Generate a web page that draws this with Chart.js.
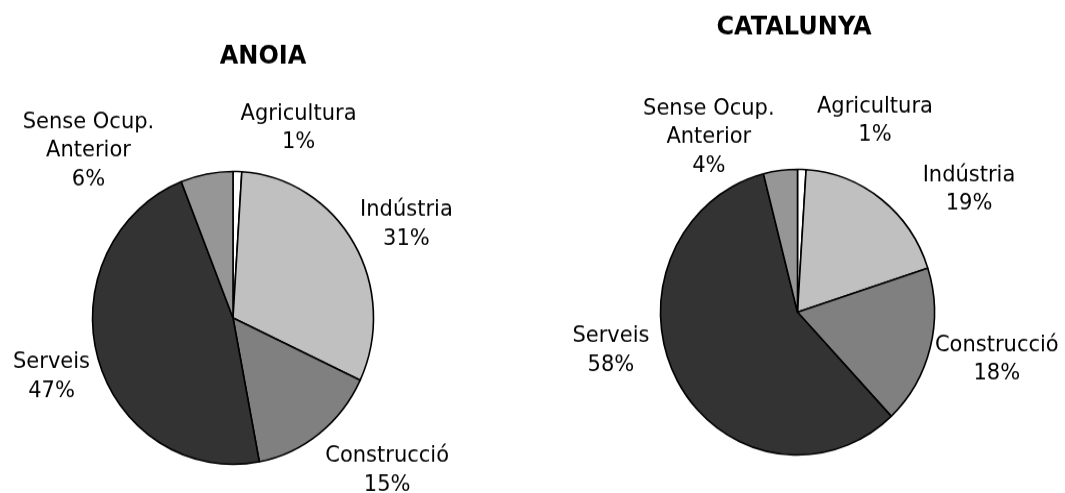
<!DOCTYPE html>
<html>
<head>
<meta charset="utf-8">
<script src="https://cdn.jsdelivr.net/npm/chart.js@4.4.1/dist/chart.umd.min.js"></script>
<style>
  body { margin: 0; background: #fff; }
  .panel { position: absolute; top: 0; }
</style>
</head>
<body>
<!-- the reference picture is stretched a little in height, so the canvases are too -->
<div class="panel" style="left:0"><canvas id="anoia" width="532" height="473" style="width:532px;height:493px"></canvas></div>
<div class="panel" style="left:532px"><canvas id="catalunya" width="533" height="473" style="width:533px;height:493px"></canvas></div>
<script>
/**
 * Data
 */
var sectors = ['Agricultura', 'Indústria', 'Construcció', 'Serveis', 'Sense Ocup. Anterior'];
var labelLines = [['Agricultura'], ['Indústria'], ['Construcció'], ['Serveis'], ['Sense Ocup.', 'Anterior']];
var anoiaValues = [1, 31, 15, 47, 6];
var catalunyaValues = [1, 19, 18, 58, 4];
var sliceColors = ['#ffffff', '#c0c0c0', '#808080', '#333333', '#969696'];

// draws the outside labels (name + percent) and the panel title
const pieLabels = {
  id: 'pieLabels',
  afterDatasetsDraw(chart, args, opts) {
    const ctx = chart.ctx;
    const meta = chart.getDatasetMeta(0);
    const values = chart.data.datasets[0].data;
    const total = values.reduce((a, b) => a + b, 0);
    ctx.save();
    ctx.fillStyle = '#000';
    ctx.textAlign = 'center';
    ctx.textBaseline = 'middle';
    ctx.font = '21px "DejaVu Sans"';
    meta.data.forEach((arc, i) => {
      const p = arc.getProps(['x', 'y', 'startAngle', 'endAngle', 'outerRadius'], true);
      const mid = (p.startAngle + p.endAngle) / 2;
      const lines = labelLines[i].concat([Math.round(values[i] / total * 100) + '%']);
      const w = Math.max(...lines.map(l => ctx.measureText(l).width));
      const h = lines.length * opts.lineHeight;
      const cos = Math.cos(mid), sin = Math.sin(mid);
      const r = p.outerRadius + opts.gap;
      const cx = p.x + r * cos + cos * w / 2 + opts.nudge[i][0];
      const cy = p.y + r * sin + sin * h / 2 + opts.nudge[i][1];
      lines.forEach((l, k) => {
        ctx.fillText(l, cx, cy - h / 2 + opts.lineHeight * (k + 0.5));
      });
    });
    ctx.font = 'bold 24px "DejaVu Sans"';
    ctx.fillText(opts.title, opts.titleX, opts.titleY);
    ctx.restore();
  }
};

function makePie(id, values, radius, padding, labelOpts) {
  return new Chart(document.getElementById(id), {
    type: 'pie',
    data: {
      labels: sectors,
      datasets: [{
        data: values,
        backgroundColor: sliceColors,
        borderColor: '#000',
        borderWidth: 1.6,
        radius: radius
      }]
    },
    options: {
      responsive: false,
      animation: false,
      events: [],
      layout: { padding: padding },
      plugins: {
        legend: { display: false },
        tooltip: { enabled: false },
        pieLabels: labelOpts
      }
    },
    plugins: [pieLabels]
  });
}

document.addEventListener('DOMContentLoaded', () => {
  makePie('anoia', anoiaValues, 140.5, { left: 0, right: 66, top: 137, bottom: 0 }, {
    title: 'ANOIA', titleX: 263, titleY: 55,
    lineHeight: 27.35, gap: 10,
    nudge: [[59, -4], [4, 1], [24, 6], [0, 7], [-104, 28]]
  });
  makePie('catalunya', catalunyaValues, 137, { left: 0, right: 2, top: 126, bottom: 0 }, {
    title: 'CATALUNYA', titleX: 262, titleY: 26.6,
    lineHeight: 27.35, gap: 10,
    nudge: [[71, -9], [53, 20], [-3, 2], [-24, -47], [-62, 19]]
  });
});
</script>
</body>
</html>
